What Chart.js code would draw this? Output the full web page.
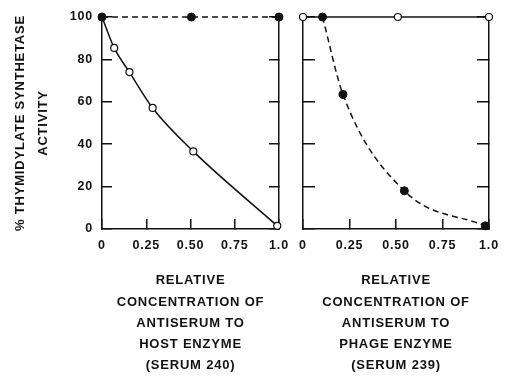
<!DOCTYPE html>
<html>
<head>
<meta charset="utf-8">
<script src="https://cdn.jsdelivr.net/npm/chart.js@4.4.1/dist/chart.umd.min.js"></script>
<style>
  html, body { margin: 0; padding: 0; background: #fff; }
  body { width: 508px; height: 377px; position: relative; overflow: hidden; }
  #hostBox { position: absolute; left: 0; top: 0; }
  #phageBox { position: absolute; left: 280px; top: 0; }
</style>
</head>
<body>
<div id="hostBox"><canvas id="hostChart" width="295" height="377"></canvas></div>
<div id="phageBox"><canvas id="phageChart" width="228" height="377"></canvas></div>
<script>
// values
const xTickLabels = ['0', '0.25', '0.50', '0.75', '1.0'];
const yTickValues = [0, 20, 40, 60, 80, 100];

// left panel: antiserum to host enzyme (serum 240)
const hostOpenX = [0, 0.069, 0.155, 0.286, 0.516, 0.99];
const hostOpenY = [100, 85.4, 74, 57.1, 36.6, 1.5];
const hostFilledX = [0, 0.505, 1.0];
const hostFilledY = [100, 100, 100];

// right panel: antiserum to phage enzyme (serum 239)
const phageOpenX = [0, 0.51, 1.0];
const phageOpenY = [100, 100, 100];
const phageFilledX = [0.105, 0.215, 0.545, 0.98];
const phageFilledY = [100, 63.5, 18, 1.5];

const hostTitle = ['RELATIVE', 'CONCENTRATION OF', 'ANTISERUM TO', 'HOST ENZYME', '(SERUM 240)'];
const phageTitle = ['RELATIVE', 'CONCENTRATION OF', 'ANTISERUM TO', 'PHAGE ENZYME', '(SERUM 239)'];
const yTitle = ['% THYMIDYLATE SYNTHETASE', 'ACTIVITY'];

const INK = '#111';
const FONT = "'Liberation Sans', Arial, sans-serif";

const pts = (xs, ys) => xs.map((x, i) => ({ x: x, y: ys[i] }));

// slightly spaced lettering like the original
const spacing = {
    id: 'spacing',
    beforeDraw(chart) { chart.ctx.letterSpacing = '0.8px'; }
};

// the tick padding would otherwise push the plot area inwards
function noPad(s) {
    s.paddingTop = 0; s.paddingBottom = 0; s.paddingLeft = 0; s.paddingRight = 0;
}

function filledSet(xs, ys, dashed) {
    return {
        data: pts(xs, ys),
        borderColor: INK, borderWidth: 1.5,
        borderDash: dashed ? [6, 4] : [],
        pointRadius: 4, pointBackgroundColor: INK, pointBorderColor: INK, pointBorderWidth: 1,
        cubicInterpolationMode: 'monotone',
        clip: false
    };
}

function openSet(xs, ys, radii) {
    return {
        data: pts(xs, ys),
        borderColor: INK, borderWidth: 1.5,
        pointRadius: radii, pointBackgroundColor: '#fff', pointBorderColor: INK, pointBorderWidth: 1.2,
        cubicInterpolationMode: 'monotone',
        clip: false
    };
}

function yScale(position, width, tickLen, showLabels, title) {
    return {
        type: 'linear', position: position, min: 0, max: 100,
        afterBuildTicks: s => { s.ticks = yTickValues.map(v => ({ value: v })); },
        afterFit: s => { s.width = width; noPad(s); },
        border: { display: true, color: INK, width: 1.5 },
        grid: { drawOnChartArea: false, drawTicks: true, tickLength: tickLen, color: INK, lineWidth: 1.5 },
        ticks: {
            display: showLabels, padding: 19, color: INK,
            font: { family: FONT, size: 12.5, weight: 'bold' }
        },
        title: title ? {
            display: true, text: title, color: INK,
            font: { family: FONT, size: 13, weight: 'bold', lineHeight: '23px' },
            padding: { top: 9, bottom: 0 }
        } : { display: false }
    };
}

function xScale(title) {
    return {
        type: 'linear', position: 'bottom', min: 0, max: 1,
        afterBuildTicks: s => { s.ticks = xTickLabels.map((t, i) => ({ value: i * 0.25 })); },
        afterFit: s => { s.height = 148; noPad(s); },
        border: { display: true, color: INK, width: 1.5 },
        grid: { drawOnChartArea: false, drawTicks: true, tickLength: -10, color: INK, lineWidth: 1.5 },
        ticks: {
            padding: 19, color: INK, maxRotation: 0, autoSkip: false,
            font: { family: FONT, size: 12.5, weight: 'bold' },
            callback: (v, i) => xTickLabels[i]
        },
        title: {
            display: true, text: title, color: INK,
            font: { family: FONT, size: 13, weight: 'bold', lineHeight: '21.3px' },
            padding: { top: 0, bottom: 0.5 }
        }
    };
}

const common = {
    responsive: false,
    animation: false,
    plugins: { legend: { display: false }, tooltip: { enabled: false } },
    elements: { line: { fill: false } }
};

new Chart(document.getElementById('hostChart'), {
    type: 'line',
    data: {
        datasets: [
            filledSet(hostFilledX, hostFilledY, true),
            openSet(hostOpenX, hostOpenY, [0, 3.5, 3.5, 3.5, 3.5, 3.5])
        ]
    },
    options: Object.assign({}, common, {
        layout: { padding: { top: 17, left: 0, right: 0, bottom: 0 } },
        scales: {
            x: xScale(hostTitle),
            y: yScale('left', 102, -10, true, yTitle),
            y2: yScale('right', 16, -10, false, null)
        }
    }),
    plugins: [spacing]
});

new Chart(document.getElementById('phageChart'), {
    type: 'line',
    data: {
        datasets: [
            filledSet(phageFilledX, phageFilledY, true),
            openSet(phageOpenX, phageOpenY, 3.5)
        ]
    },
    options: Object.assign({}, common, {
        layout: { padding: { top: 17, left: 0, right: 0, bottom: 0 } },
        scales: {
            x: xScale(phageTitle),
            y: yScale('left', 23, -12, false, null),
            y2: yScale('right', 19, -12, false, null)
        }
    }),
    plugins: [spacing]
});
</script>
</body>
</html>
